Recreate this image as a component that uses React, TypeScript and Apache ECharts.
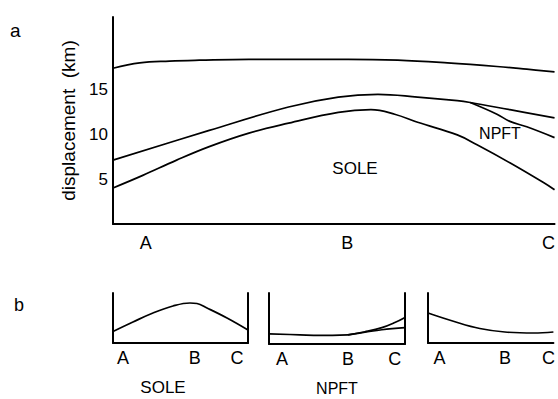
import React, { useEffect, useRef } from "react";
import * as echarts from "echarts";

// ---------- data ----------
const tickNames = ["A", "B", "C"];
const mainTicks = [0, 1, 2];
const yTickLabels = [5, 10, 15];

// main panel (x: along strike, A=0, B=1, C=2; y: displacement km)
const topLineX = [-0.163, -0.03, 0.118, 0.266, 0.512, 0.759, 1.005, 1.251, 1.498, 1.744, 1.892, 2.03];
const topLineY = [17.3, 17.9, 18.1, 18.2, 18.3, 18.3, 18.3, 18.2, 17.9, 17.5, 17.2, 16.9];

const midLineX = [-0.163, 0.315, 0.709, 0.956, 1.153, 1.35, 1.547, 1.611, 1.808, 2.03];
const midLineY = [7.1, 10.4, 13.0, 14.1, 14.4, 14.1, 13.7, 13.5, 12.7, 11.8];

const branchX = [1.611, 1.744, 1.808, 1.892, 2.03];
const branchY = [13.5, 12.2, 11.4, 10.8, 9.6];

const soleLineX = [-0.163, -0.015, 0.153, 0.315, 0.512, 0.709, 0.956, 1.118, 1.236, 1.35, 1.547, 1.645, 1.808, 1.975, 2.03];
const soleLineY = [4.0, 5.4, 7.1, 8.6, 10.1, 11.2, 12.4, 12.7, 12.2, 11.3, 9.9, 8.8, 6.8, 4.6, 3.8];

// panel b1 (SOLE)
const b1Ticks = [0, 1.26, 2];
const b1X = [-0.175, 0.175, 0.526, 0.877, 1.175, 1.298, 1.474, 1.825, 2.193];
const b1Y = [2.3, 4.2, 6.0, 7.4, 8.0, 7.9, 7.0, 5.0, 2.6];

// panel b2 (NPFT)
const b2Ticks = [0, 1.17, 2];
const b2BaseX = [-0.23, 0.32, 0.67, 1.17];
const b2BaseY = [2.0, 1.8, 1.7, 1.8];
const b2UpperX = [1.17, 1.47, 1.77, 2.0, 2.18];
const b2UpperY = [1.8, 2.4, 3.2, 4.2, 5.2];
const b2LowerX = [1.17, 1.47, 1.77, 2.18];
const b2LowerY = [1.8, 2.3, 2.8, 3.2];

// panel b3
const b3Ticks = [0, 1.2, 2];
const b3X = [-0.21, 0.27, 0.74, 1.2, 1.73, 2.09];
const b3Y = [6.0, 4.3, 2.9, 2.2, 2.0, 2.2];

const zip = (xs: number[], ys: number[]) => xs.map((x, i) => [x, ys[i]]);

const FONT = "'Liberation Sans', Arial, Helvetica, sans-serif";
const BLACK = "#000";

function labelFor(ticks: number[]) {
  return (v: number) => {
    const i = ticks.findIndex((t) => Math.abs(t - v) < 1e-6);
    return i >= 0 ? tickNames[i] : "";
  };
}

function xAxisFor(gridIndex: number, min: number, max: number, ticks: number[], fontSize: number, margin: number) {
  return {
    type: "value",
    gridIndex,
    min,
    max,
    axisLine: { show: true, onZero: false, lineStyle: { color: BLACK, width: 2 } },
    axisTick: { show: false },
    splitLine: { show: false },
    axisLabel: {
      customValues: ticks,
      formatter: labelFor(ticks),
      color: BLACK,
      fontFamily: FONT,
      fontSize,
      margin,
      showMinLabel: true,
      showMaxLabel: true,
    },
  };
}

function plainY(gridIndex: number, position: string, show: boolean) {
  return {
    type: "value",
    gridIndex,
    min: 0,
    max: 10,
    position,
    axisLine: { show, onZero: false, lineStyle: { color: BLACK, width: 2 } },
    axisTick: { show: false },
    axisLabel: { show: false },
    splitLine: { show: false },
  };
}

function line(data: number[][], xAxisIndex: number, yAxisIndex: number) {
  return {
    type: "line",
    xAxisIndex,
    yAxisIndex,
    data,
    smooth: 0.4,
    symbol: "none",
    lineStyle: { color: BLACK, width: 1.7 },
    silent: true,
  };
}

export default function App() {
  const ref = useRef<HTMLDivElement>(null);

  useEffect(() => {
    if (!ref.current) return;
    const chart = echarts.init(ref.current, null, { renderer: "svg" });
    const option: any = {
      animation: false,
      backgroundColor: "#fff",
      textStyle: { fontFamily: FONT, color: BLACK },
      grid: [
        { left: 113, top: 17, width: 445, height: 207 },
        { left: 113, top: 293, width: 135, height: 50 },
        { left: 269, top: 293, width: 136, height: 51 },
        { left: 428, top: 293, width: 130, height: 50 },
      ],
      xAxis: [
        xAxisFor(0, -0.163, 2.03, mainTicks, 18, 10),
        xAxisFor(1, -0.175, 2.193, b1Ticks, 18, 6),
        xAxisFor(2, -0.23, 2.18, b2Ticks, 18, 6),
        xAxisFor(3, -0.21, 2.09, b3Ticks, 18, 6),
      ],
      yAxis: [
        {
          type: "value",
          gridIndex: 0,
          min: 0,
          max: 23,
          name: "displacement  (km)",
          nameLocation: "middle",
          nameRotate: 90,
          nameGap: 35,
          nameTextStyle: { color: BLACK, fontFamily: FONT, fontSize: 19 },
          axisLine: { show: true, onZero: false, lineStyle: { color: BLACK, width: 2 } },
          axisTick: { show: false },
          splitLine: { show: false },
          axisLabel: {
            customValues: yTickLabels,
            color: BLACK,
            fontFamily: FONT,
            fontSize: 17,
            margin: 5,
          },
        },
        plainY(1, "left", true),
        plainY(1, "right", true),
        plainY(2, "left", true),
        plainY(2, "right", true),
        plainY(3, "left", true),
      ],
      series: [
        line(zip(topLineX, topLineY), 0, 0),
        line(zip(midLineX, midLineY), 0, 0),
        line(zip(branchX, branchY), 0, 0),
        line(zip(soleLineX, soleLineY), 0, 0),
        line(zip(b1X, b1Y), 1, 1),
        line(zip(b2BaseX, b2BaseY), 2, 3),
        line(zip(b2UpperX, b2UpperY), 2, 3),
        line(zip(b2LowerX, b2LowerY), 2, 3),
        line(zip(b3X, b3Y), 3, 5),
      ],
      graphic: [
        { type: "text", left: 10, top: 21, style: { text: "a", fill: BLACK, font: `19px ${FONT}` } },
        { type: "text", left: 14, top: 296, style: { text: "b", fill: BLACK, font: `18px ${FONT}` } },
        { type: "text", x: 355, y: 168, style: { text: "SOLE", fill: BLACK, font: `17px ${FONT}`, align: "center", verticalAlign: "middle" } },
        { type: "text", x: 500, y: 133, style: { text: "NPFT", fill: BLACK, font: `16px ${FONT}`, align: "center", verticalAlign: "middle" } },
        { type: "text", x: 163, y: 387, style: { text: "SOLE", fill: BLACK, font: `17px ${FONT}`, align: "center", verticalAlign: "middle" } },
        { type: "text", x: 337, y: 388, style: { text: "NPFT", fill: BLACK, font: `16px ${FONT}`, align: "center", verticalAlign: "middle" } },
      ],
    };
    chart.setOption(option);
    return () => chart.dispose();
  }, []);

  return (
    <div
      ref={ref}
      style={{ position: "fixed", left: 0, top: 0, width: 558, height: 399, background: "#fff" }}
    />
  );
}
